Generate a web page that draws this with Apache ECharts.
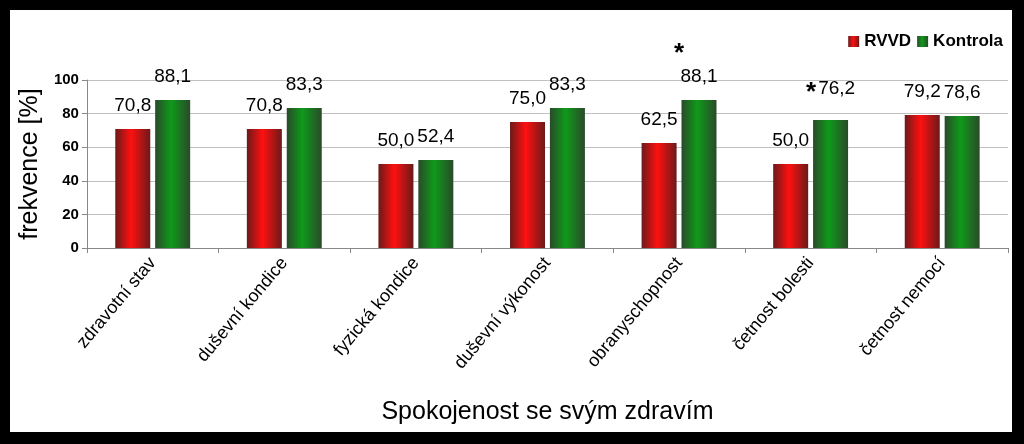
<!DOCTYPE html>
<html><head><meta charset="utf-8">
<script src="https://cdn.jsdelivr.net/npm/echarts@6/dist/echarts.min.js"></script>
<style>
html,body{margin:0;padding:0;background:#000;}
#c{position:absolute;left:10px;top:10px;width:1002px;height:422px;background:#fff;}
</style></head><body><div id="c"></div>
<script>
const categories = ['zdravotní stav','duševní kondice','fyzická kondice','duševní výkonost','obranyschopnost','četnost bolesti','četnost nemocí'];
const rvvd = [70.8, 70.8, 50.0, 75.0, 62.5, 50.0, 79.2];
const kontrola = [88.1, 83.3, 52.4, 83.3, 88.1, 76.2, 78.6];
const stars = ['', '', '', '', 'above', 'inline', ''];
const yTicks = [0, 20, 40, 60, 80, 100];

const fmt = v => v.toFixed(1).replace('.', ',');
function grad(dark, bright){
  return new echarts.graphic.LinearGradient(0,0,1,0,[
    {offset:0,color:dark},{offset:0.45,color:bright},{offset:1,color:dark}]);
}
const chart = echarts.init(document.getElementById('c'));
chart.setOption({
  animation:false,
  textStyle:{fontFamily:'Liberation Sans, Arial'},
  legend:{top:18,right:4,itemWidth:11,itemHeight:11,itemGap:6,icon:'rect',
    textStyle:{fontSize:17,fontWeight:'bold',color:'#000'},
    data:['RVVD','Kontrola']},
  grid:{left:73,right:4,top:70,bottom:184},
  xAxis:{type:'category',data:categories,
    axisLine:{lineStyle:{color:'#888'}},
    axisTick:{show:true,lineStyle:{color:'#888'}},
    axisLabel:{rotate:50,fontSize:18,color:'#000',margin:12,interval:0},
    name:'Spokojenost se svým zdravím',nameLocation:'middle',nameGap:152,
    nameTextStyle:{fontSize:25,color:'#000'}},
  yAxis:{type:'value',min:yTicks[0],max:yTicks[yTicks.length-1],interval:20,
    axisLine:{show:true,lineStyle:{color:'#888'}},
    axisTick:{show:true,lineStyle:{color:'#888'}},
    splitLine:{lineStyle:{color:'#c0c0c0'}},
    axisLabel:{fontSize:15,fontWeight:'bold',color:'#000'},
    name:'frekvence [%]',nameLocation:'middle',nameGap:42,
    nameTextStyle:{fontSize:25,color:'#000'}},
  series:[
    {name:'RVVD',type:'bar',data:rvvd,barWidth:35,barGap:'14%',
     itemStyle:{color:grad('#6b1a1a','#ff1010')},
     label:{show:true,position:'top',distance:14,fontSize:19,color:'#000',formatter:p=>fmt(p.value)}},
    {name:'Kontrola',type:'bar',data:kontrola,barWidth:35,
     itemStyle:{color:grad('#2a4a2a','#0f9a1a')},
     label:{show:true,position:'top',distance:14,fontSize:19,color:'#000',
       formatter:p=>{const s=stars[p.dataIndex];
         if(s==='above') return '{sa|*}\n'+fmt(p.value);
         if(s==='inline') return '{s|*}'+fmt(p.value);
         return fmt(p.value);},
       rich:{s:{fontSize:26,fontWeight:'bold',color:'#000',padding:[8,2,0,0]},
             sa:{fontSize:26,fontWeight:'bold',color:'#000',padding:[0,40,0,0]}}}}
  ]
});
</script></body></html>
